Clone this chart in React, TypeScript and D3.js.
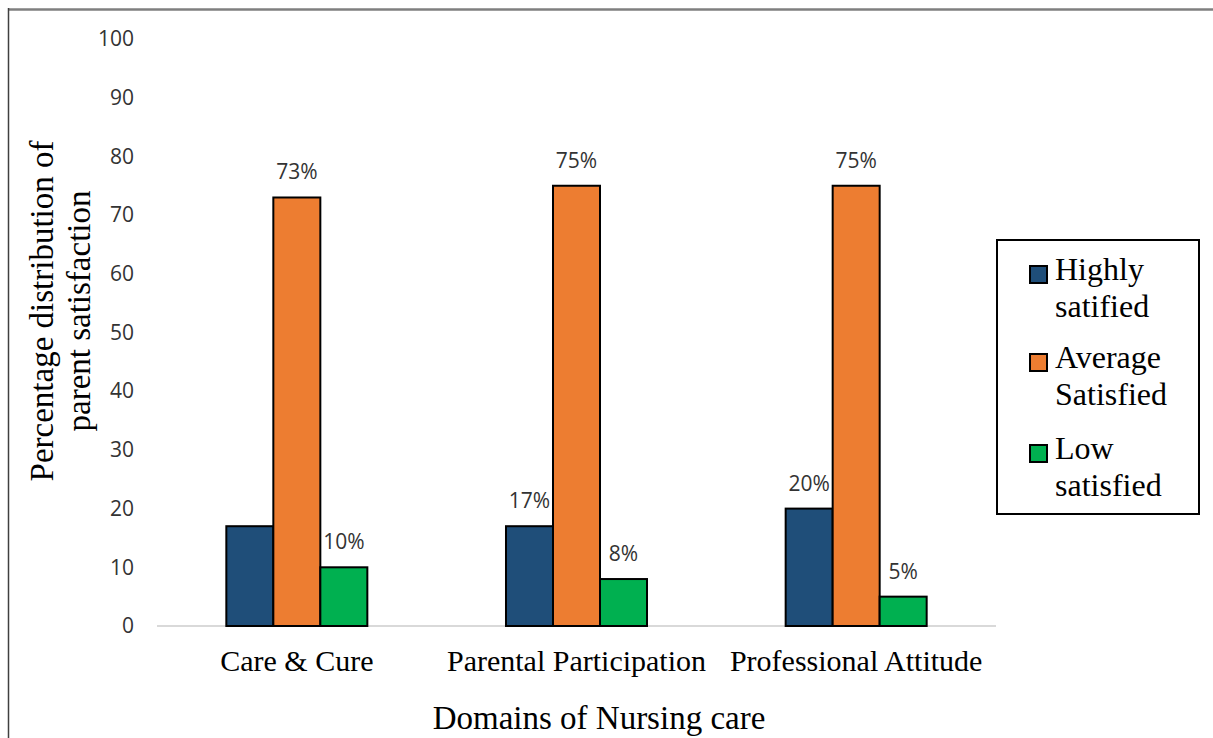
import React, { useRef, useEffect } from 'react';
import * as d3 from 'd3';

// Chart data
const categories = ['Care & Cure', 'Parental Participation', 'Professional Attitude'];
const seriesNames = ['Highly satified', 'Average Satisfied', 'Low satisfied'];
const legendLines = [['Highly', 'satified'], ['Average', 'Satisfied'], ['Low', 'satisfied']];
const seriesColors = ['#1f4e79', '#ed7d31', '#00b050'];
const highlySatisfied = [17, 17, 20];
const averageSatisfied = [73, 75, 75];
const lowSatisfied = [10, 8, 5];
// data labels as shown (the first blue bar has none)
const highlyLabels = [null, '17%', '20%'];
const averageLabels = ['73%', '75%', '75%'];
const lowLabels = ['10%', '8%', '5%'];
const yTicks = [0, 10, 20, 30, 40, 50, 60, 70, 80, 90, 100];

const seriesValues = [highlySatisfied, averageSatisfied, lowSatisfied];
const seriesLabels = [highlyLabels, averageLabels, lowLabels];

const WIDTH = 1213;
const HEIGHT = 738;
const SERIF = '"Liberation Serif", "Times New Roman", serif';
const SANS = '"Open Sans", sans-serif';

const SatisfactionChart: React.FC = () => {
  const svgRef = useRef<SVGSVGElement>(null);

  useEffect(() => {
    const svg = d3.select(svgRef.current);
    svg.selectAll('*').remove();

    // plot area
    const left = 157;
    const right = 996;
    const top = 39;
    const bottom = 626;

    const x0 = d3.scaleBand<string>()
      .domain(categories)
      .range([left, right])
      .paddingInner(0)
      .paddingOuter(0);

    const x1 = d3.scaleBand<string>()
      .domain(seriesNames)
      .range([0, x0.bandwidth()])
      .paddingInner(0)
      .paddingOuter(1.475);

    const y = d3.scaleLinear()
      .domain([0, 100])
      .range([bottom, top]);

    // outer frame (top + left edges only)
    svg.append('line')
      .attr('x1', 8).attr('x2', WIDTH)
      .attr('y1', 9.5).attr('y2', 9.5)
      .attr('stroke', '#7f7f7f')
      .attr('stroke-width', 2.5);
    svg.append('line')
      .attr('x1', 8.5).attr('x2', 8.5)
      .attr('y1', 8).attr('y2', HEIGHT)
      .attr('stroke', '#404040')
      .attr('stroke-width', 1.5);

    // y axis ticks
    const yAxis = d3.axisLeft(y)
      .tickValues(yTicks)
      .tickSize(0)
      .tickPadding(23)
      .tickFormat(d => String(d));

    const yg = svg.append('g')
      .attr('transform', `translate(${left},0)`)
      .call(yAxis);
    yg.select('.domain').remove();
    yg.selectAll('text')
      .style('font-family', SANS)
      .style('font-size', '21px')
      .attr('fill', '#333');

    // baseline
    svg.append('line')
      .attr('x1', left).attr('x2', right)
      .attr('y1', y(0)).attr('y2', y(0))
      .attr('stroke', '#d9d9d9')
      .attr('stroke-width', 2);

    // bars
    categories.forEach((cat, ci) => {
      const g = svg.append('g')
        .attr('transform', `translate(${x0(cat)},0)`);
      seriesNames.forEach((s, si) => {
        const v = seriesValues[si][ci];
        g.append('rect')
          .attr('x', x1(s) as number)
          .attr('y', y(v))
          .attr('width', x1.bandwidth())
          .attr('height', y(0) - y(v))
          .attr('fill', seriesColors[si])
          .attr('stroke', '#000')
          .attr('stroke-width', 2);
      });
      seriesNames.forEach((s, si) => {
        const label = seriesLabels[si][ci];
        if (!label) return;
        const v = seriesValues[si][ci];
        g.append('text')
          .attr('x', (x1(s) as number) + x1.bandwidth() / 2)
          .attr('y', y(v) - 18)
          .attr('text-anchor', 'middle')
          .style('font-family', SANS)
          .style('font-size', '21px')
          .attr('fill', '#333')
          .text(label);
      });
    });

    // category labels
    categories.forEach(cat => {
      svg.append('text')
        .attr('x', (x0(cat) as number) + x0.bandwidth() / 2)
        .attr('y', 671)
        .attr('text-anchor', 'middle')
        .style('font-family', SERIF)
        .style('font-size', '30px')
        .attr('fill', '#000')
        .text(cat);
    });

    // x axis title
    svg.append('text')
      .attr('x', 599)
      .attr('y', 729)
      .attr('text-anchor', 'middle')
      .style('font-family', SERIF)
      .style('font-size', '33px')
      .attr('fill', '#000')
      .text('Domains of Nursing care');

    // y axis title (two lines)
    const yTitle = svg.append('text')
      .attr('transform', 'translate(53,311) rotate(-90)')
      .attr('text-anchor', 'middle')
      .style('font-family', SERIF)
      .style('font-size', '33px')
      .attr('fill', '#000');
    yTitle.append('tspan').attr('x', 0).attr('dy', 0).text('Percentage distribution of');
    yTitle.append('tspan').attr('x', 0).attr('dy', 37).text('parent satisfaction');

    // legend
    const legend = svg.append('g');
    legend.append('rect')
      .attr('x', 997).attr('y', 240)
      .attr('width', 202).attr('height', 274)
      .attr('fill', '#fff')
      .attr('stroke', '#000')
      .attr('stroke-width', 2);

    const legendBaselines = [280, 368, 459];
    legendLines.forEach((lines, i) => {
      const by = legendBaselines[i];
      legend.append('rect')
        .attr('x', 1030).attr('y', by - 14)
        .attr('width', 17).attr('height', 17)
        .attr('fill', seriesColors[i])
        .attr('stroke', '#000')
        .attr('stroke-width', 2);
      const t = legend.append('text')
        .attr('x', 1055)
        .attr('y', by)
        .style('font-family', SERIF)
        .style('font-size', '32px')
        .attr('fill', '#000');
      lines.forEach((line, li) => {
        t.append('tspan')
          .attr('x', 1055)
          .attr('dy', li === 0 ? 0 : 37)
          .text(line);
      });
    });
  }, []);

  return (
    <svg
      ref={svgRef}
      width={WIDTH}
      height={HEIGHT}
      style={{ position: 'absolute', left: 0, top: 0, background: '#fff' }}
    />
  );
};

export default function App() {
  return <SatisfactionChart />;
}
